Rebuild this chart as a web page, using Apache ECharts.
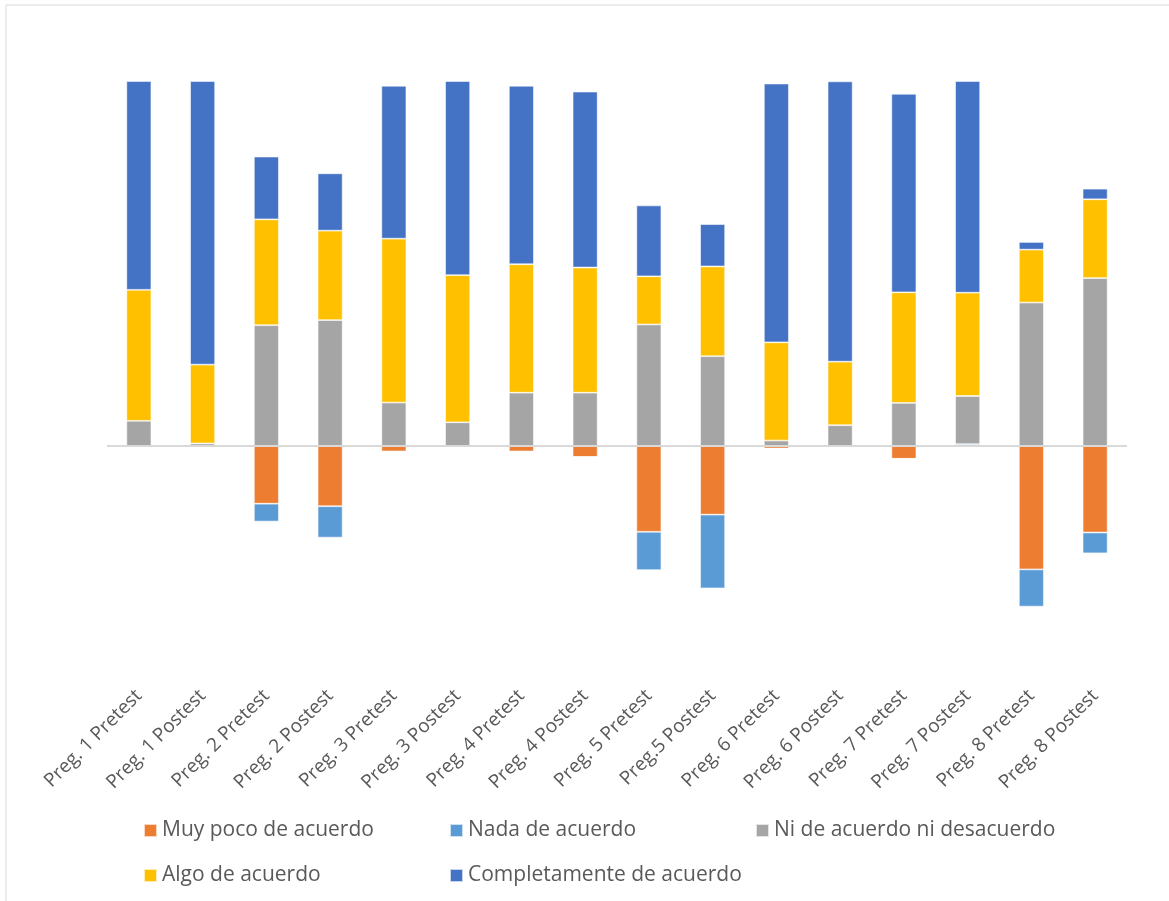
<!DOCTYPE html>
<html>
<head>
<meta charset="utf-8">
<script src="https://cdn.jsdelivr.net/npm/echarts@6/dist/echarts.min.js"></script>
<style>
  html, body { margin: 0; padding: 0; background: #fff; }
  #chart { width: 1169px; height: 901px; }
</style>
</head>
<body>
<div id="chart"></div>
<script>
// categorías (preguntas pre / post)
var categories = ["Preg. 1 Pretest", "Preg. 1 Postest", "Preg. 2 Pretest", "Preg. 2 Postest",
  "Preg. 3 Pretest", "Preg. 3 Postest", "Preg. 4 Pretest", "Preg. 4 Postest",
  "Preg. 5 Pretest", "Preg.5 Postest", "Preg. 6 Pretest", "Preg. 6 Postest",
  "Preg. 7 Pretest", "Preg. 7 Postest", "Preg. 8 Pretest", "Preg. 8 Postest"];

// porcentajes (negativos = desacuerdo)
var muyPoco = [0, 0, -15.8, -16.5, -1.5, 0, -1.5, -3.0, -23.5, -18.8, -0.7, 0, -3.5, 0, -33.8, -23.7];
var nada = [0, 0, -4.9, -8.6, 0, 0, 0, 0, -10.5, -20.2, 0, 0, 0, 0.5, -10.2, -5.7];
var niNi = [6.9, 0.7, 33.1, 34.5, 11.9, 6.5, 14.6, 14.6, 33.3, 24.6, 1.5, 5.7, 11.8, 13.2, 39.3, 46.0];
var algo = [35.9, 21.6, 29.0, 24.5, 44.9, 40.3, 35.2, 34.3, 13.2, 24.6, 26.9, 17.4, 30.3, 28.3, 14.5, 21.6];
var completamente = [57.2, 77.7, 17.2, 15.7, 41.9, 53.2, 48.9, 48.2, 19.4, 11.6, 70.9, 76.8, 54.4, 58.0, 2.1, 2.9];

var seriesNames = ["Muy poco de acuerdo", "Nada de acuerdo", "Ni de acuerdo ni desacuerdo",
  "Algo de acuerdo", "Completamente de acuerdo"];

var myChart = echarts.init(document.getElementById("chart"));

function barSerie(name, data, color) {
  return {
    name: name,
    type: "bar",
    stack: "total",
    barWidth: 25,
    data: data,
    itemStyle: { color: color, borderColor: "rgba(255,255,255,0.7)", borderWidth: 0.8 },
  };
}

var series = [
  barSerie(seriesNames[0], muyPoco, "#ED7D31"),
  barSerie(seriesNames[1], nada, "#5B9BD5"),
  barSerie(seriesNames[2], niNi, "#A5A5A5"),
  barSerie(seriesNames[3], algo, "#FFC000"),
  barSerie(seriesNames[4], completamente, "#4472C4"),
];
// línea del cero
series[0].markLine = {
  silent: true,
  symbol: "none",
  label: { show: false },
  z: 10,
  lineStyle: { color: "#D9D9D9", width: 2, type: "solid" },
  data: [{ yAxis: 0 }],
};

var legendText = { fontFamily: "Open Sans", fontSize: 21, color: "#595959" };

function legendCol(left, names) {
  return {
    orient: "vertical", left: left, top: 820, padding: 0,
    itemWidth: 13, itemHeight: 13, itemGap: 24,
    icon: "rect", textStyle: legendText, data: names,
  };
}

option = {
  animation: false,
  backgroundColor: "#fff",
  grid: { left: 107, right: 42, top: 81, bottom: 236 },
  xAxis: {
    type: "category",
    data: categories,
    axisLine: { show: false, onZero: false },
    axisTick: { show: false },
    axisLabel: {
      rotate: 45,
      interval: 0,
      margin: 28,
      fontFamily: "Open Sans",
      fontSize: 19,
      color: "#595959",
    },
  },
  yAxis: {
    type: "value",
    min: -60,
    max: 100,
    show: false,
    splitLine: { show: false },
  },
  legend: [
    legendCol(143, [seriesNames[0], seriesNames[3]]),
    legendCol(449, [seriesNames[1], seriesNames[4]]),
    legendCol(755, [seriesNames[2]]),
  ],
  graphic: [
    {
      type: "rect",
      shape: { x: 6, y: 5, width: 1200, height: 920 },
      style: { fill: "none", stroke: "#D9D9D9", lineWidth: 1 },
      silent: true,
    },
  ],
  series: series,
};

myChart.setOption(option);
window.addEventListener("resize", function () {
  myChart.resize();
});
</script>
</body>
</html>
